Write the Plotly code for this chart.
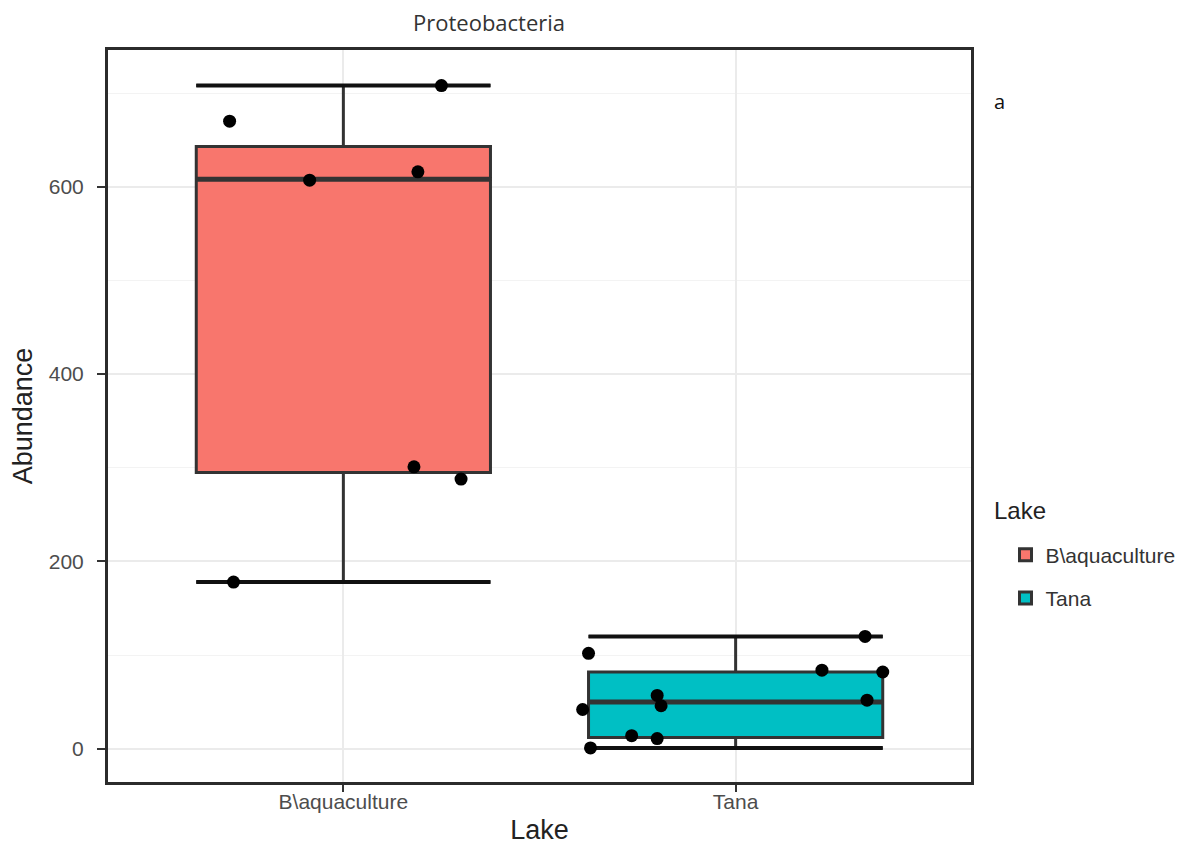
import plotly.graph_objects as go

categories = ["B\\aquaculture", "Tana"]
positions = [1, 2]
colors = ["#F8766D", "#00BFC4"]

# box statistics
q1 = [295, 12]
medians = [608, 50]
q3 = [643, 82]
lower = [178, 1]
upper = [708, 120]

# jittered points: values and horizontal jitter offsets
b_vals = [708, 670, 607, 616, 301, 288, 178]
b_jit = [0.25, -0.29, -0.086, 0.19, 0.18, 0.30, -0.28]
t_vals = [120, 102, 84, 82, 57, 52, 46, 42, 14, 11, 1]
t_jit = [0.33, -0.375, 0.22, 0.375, -0.20, 0.335, -0.19, -0.39, -0.265, -0.20, -0.37]

y_ticks = [0, 200, 400, 600]

BOX_W = 0.75
HALF = BOX_W / 2

fig = go.Figure()
for i, cat in enumerate(categories):
    fig.add_trace(go.Box(
        x=[positions[i]], q1=[q1[i]], median=[medians[i]], q3=[q3[i]],
        lowerfence=[lower[i]], upperfence=[upper[i]],
        name=cat, legendgroup=cat, fillcolor=colors[i],
        line=dict(color="#333333", width=3), width=BOX_W, whiskerwidth=1,
        boxpoints=False, hoverinfo="skip",
    ))
    # thicker median line and whisker caps (ggplot style)
    fig.add_trace(go.Scatter(
        x=[positions[i] - HALF, positions[i] + HALF], y=[medians[i], medians[i]],
        mode="lines", line=dict(color="#333333", width=5),
        showlegend=False, hoverinfo="skip",
    ))
    for fence in (lower[i], upper[i]):
        fig.add_trace(go.Scatter(
            x=[positions[i] - HALF, positions[i] + HALF], y=[fence, fence],
            mode="lines", line=dict(color="#111111", width=4),
            showlegend=False, hoverinfo="skip",
        ))

for pos, vals, jit in [(positions[0], b_vals, b_jit), (positions[1], t_vals, t_jit)]:
    fig.add_trace(go.Scatter(
        x=[pos + j for j in jit], y=vals, mode="markers",
        marker=dict(color="black", size=13), showlegend=False, hoverinfo="skip",
    ))

fig.update_layout(
    width=1195, height=849,
    margin=dict(l=100, r=232, t=42, b=75),
    paper_bgcolor="white", plot_bgcolor="white",
    font=dict(family="Liberation Sans, Arial, sans-serif", color="#333333"),
    showlegend=True,
    legend=dict(
        x=1.040, xanchor="left", y=0.338, yanchor="top",
        font=dict(size=21, color="#333333"),
        tracegroupgap=13, traceorder="grouped",
        bgcolor="rgba(0,0,0,0)",
    ),
    xaxis=dict(
        range=[0.4, 2.6], tickvals=positions, ticktext=categories,
        showgrid=True, gridcolor="#EBEBEB", gridwidth=2, zeroline=False,
        showline=True, linecolor="#2b2b2b", linewidth=3, mirror=True,
        ticks="outside", ticklen=7, tickwidth=2, tickcolor="#333333",
        ticklabelstandoff=-8,
        tickfont=dict(size=21, color="#4D4D4D"), automargin=False,
        title=dict(text="Lake", font=dict(size=27, color="#222222"), standoff=8),
    ),
    yaxis=dict(
        range=[-35.4, 746], tickvals=y_ticks,
        showgrid=True, gridcolor="#EBEBEB", gridwidth=2, zeroline=False,
        minor=dict(dtick=100, tick0=0, showgrid=True, gridcolor="#F3F3F3", gridwidth=1),
        showline=True, linecolor="#2b2b2b", linewidth=3, mirror=True,
        ticks="outside", ticklen=8, tickwidth=2, tickcolor="#333333",
        ticklabelstandoff=9,
        tickfont=dict(size=21, color="#4D4D4D"), automargin=False,
        title=dict(text="Abundance", font=dict(size=27, color="#222222"), standoff=12),
    ),
    annotations=[
        dict(text="Proteobacteria", xref="paper", yref="paper", x=0.442, y=1,
             yshift=28, xanchor="center", yanchor="middle", showarrow=False,
             font=dict(size=22, family="Open Sans, sans-serif", color="#333333")),
        dict(text="a", xref="paper", yref="paper", x=1.024, y=1, xanchor="left",
             yanchor="middle", yshift=-51, showarrow=False,
             font=dict(size=20, family="Open Sans, sans-serif", color="#111111")),
        dict(text="Lake", xref="paper", yref="paper", x=1.024, y=1, xanchor="left",
             yanchor="middle", yshift=-460, showarrow=False,
             font=dict(size=24, color="#222222")),
    ],
)

fig.write_html("out.html")
